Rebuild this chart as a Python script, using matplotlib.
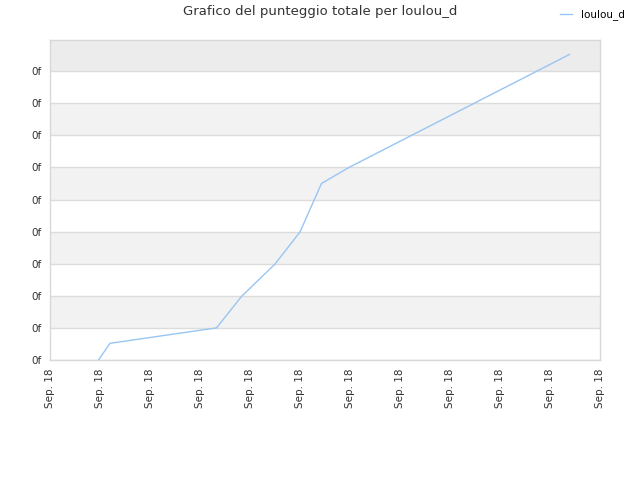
import matplotlib
matplotlib.use("Agg")
import matplotlib.pyplot as plt
import numpy as np

# data (x in tick steps, y in tick steps)
x_vals = [0.97, 1.20, 3.33, 3.83, 4.50, 5.00, 5.43, 5.98, 10.39]
y_vals = [0.00, 0.52, 1.00, 1.98, 2.99, 3.99, 5.50, 6.00, 9.52]
x_ticks = np.arange(0, 12)
y_ticks = np.arange(0, 10)
x_label = "Sep. 18"
y_label = "0f"
series_name = "loulou_d"
title = "Grafico del punteggio totale per loulou_d"

fig = plt.figure(figsize=(6.4, 4.8), dpi=100)
ax = fig.add_axes([50 / 640, 120 / 480, 550 / 640, 320 / 480])

ymax = 9.97
ax.set_xlim(0, 11)
ax.set_ylim(0, ymax)

# alternating bands
for i in range(len(y_ticks)):
    top = min(i + 1, ymax)
    if i == 9:
        ax.axhspan(i, top, color="#ececec", zorder=0, lw=0)
    elif i % 2 == 1:
        ax.axhspan(i, top, color="#f2f2f2", zorder=0, lw=0)
for yt in y_ticks:
    ax.axhline(yt, color="#dcdcdc", lw=1, zorder=1)

ax.plot(x_vals, y_vals, color="#99c5f2", lw=1, label=series_name, zorder=3)

ax.set_xticks(x_ticks)
ax.set_xticklabels([x_label] * len(x_ticks), rotation=90)
ax.set_yticks(y_ticks)
ax.set_yticklabels([y_label] * len(y_ticks))
ax.tick_params(length=0, labelsize=7.5, colors="#333333", pad=6)

for s in ax.spines.values():
    s.set_color("#d8d8d8")
    s.set_linewidth(1)

fig.text(0.5, 1 - 12 / 480, title, ha="center", va="center", fontsize=9.5, color="#333333")
fig.legend(loc="center right", bbox_to_anchor=(634 / 640, 1 - 15 / 480), frameon=False,
           fontsize=7.5, handlelength=1.2, handletextpad=0.8)

fig.savefig("out.png", dpi=100)
